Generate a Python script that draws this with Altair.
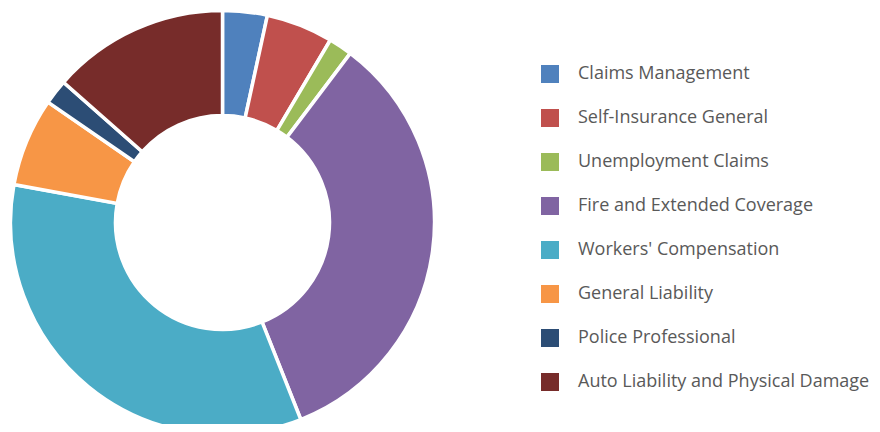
import altair as alt
import pandas as pd

categories = [
    "Claims Management",
    "Self-Insurance General",
    "Unemployment Claims",
    "Fire and Extended Coverage",
    "Workers' Compensation",
    "General Liability",
    "Police Professional",
    "Auto Liability and Physical Damage",
]
values = [3.4, 5.1, 1.8, 33.7, 33.9, 6.75, 1.9, 13.5]
colors = ["#4F81BD", "#C0504D", "#9BBB59", "#8064A2", "#4BACC6", "#F79646", "#2C4D75", "#772C2A"]

df = pd.DataFrame({"category": categories, "value": values, "order": list(range(len(categories)))})

chart = alt.Chart(df).mark_arc(
    outerRadius=212, innerRadius=107, stroke="white", strokeWidth=3.5
).encode(
    theta=alt.Theta("value:Q", stack=True),
    order=alt.Order("order:Q"),
    color=alt.Color(
        "category:N",
        scale=alt.Scale(domain=categories, range=colors),
        legend=alt.Legend(
            title=None,
            orient="none",
            legendX=533,
            legendY=57,
            symbolType="square",
            symbolSize=324,
            symbolStrokeWidth=0,
            labelFont="Open Sans",
            labelFontSize=18,
            labelColor="#595959",
            labelOffset=19,
            rowPadding=26,
            padding=0,
            labelLimit=400,
        ),
    ),
    x=alt.value(214.5),
    y=alt.value(214.5),
).properties(
    width=864,
    height=416,
    padding=0,
    autosize=alt.AutoSizeParams(type="none"),
).configure_view(stroke=None)

chart.save("out.html", embed_options={"renderer": "svg", "actions": False})
